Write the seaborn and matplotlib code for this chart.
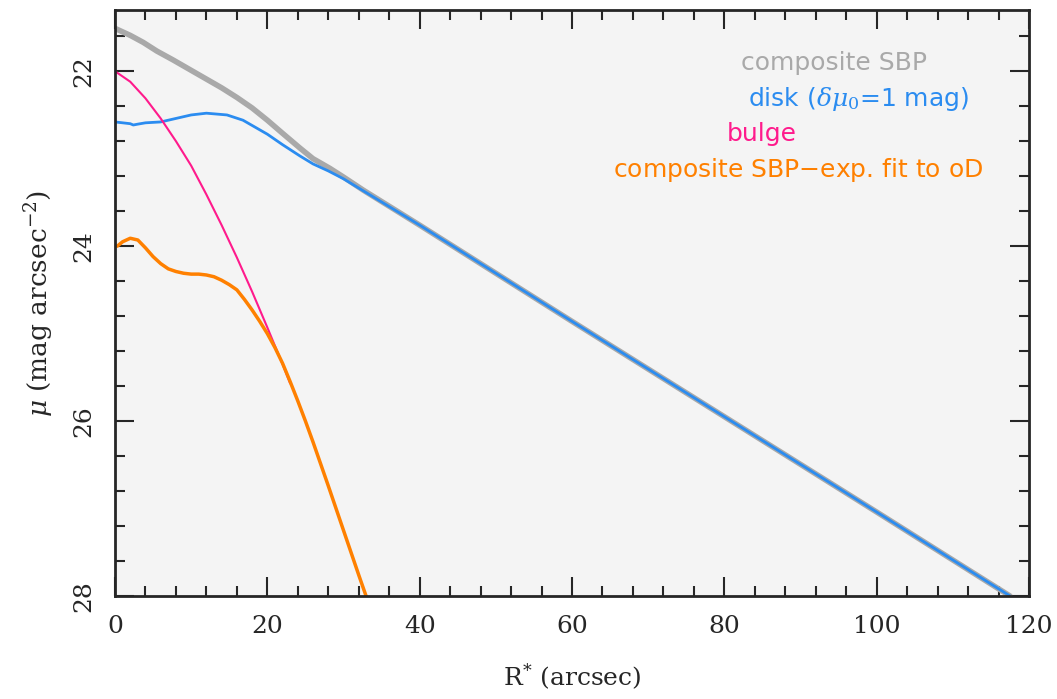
import matplotlib
matplotlib.use("Agg")
import matplotlib.pyplot as plt
import seaborn as sns
from matplotlib.ticker import MultipleLocator

# composite surface brightness profile
r_comp = [0, 2, 3.7, 5.5, 7.6, 10, 12, 14, 16, 18, 20, 22, 24.3, 26, 28.2, 30,
          32.6, 40, 60, 80, 100, 117.5]
mu_comp = [21.51, 21.59, 21.67, 21.77, 21.87, 21.99, 22.09, 22.19, 22.30, 22.42,
           22.56, 22.71, 22.88, 23.00, 23.11, 23.21, 23.36, 23.76, 24.86, 25.95,
           27.04, 28.00]

# disk
r_disk = [0, 1, 2, 2.4, 3, 4, 6, 8, 10, 12, 14.7, 16.8, 18, 20, 22, 24.3, 26, 28,
          30, 40, 60, 80, 100, 117.5]
mu_disk = [22.58, 22.59, 22.60, 22.615, 22.605, 22.59, 22.58, 22.54, 22.50, 22.48,
           22.50, 22.56, 22.62, 22.72, 22.84, 22.97, 23.06, 23.14, 23.23, 23.76,
           24.86, 25.95, 27.04, 28.00]

# bulge
r_bulge = [0, 2, 4, 6, 8, 10, 12, 14, 16, 18, 20, 22, 23]
mu_bulge = [22.00, 22.12, 22.31, 22.54, 22.80, 23.08, 23.41, 23.76, 24.13, 24.52,
            24.93, 25.35, 25.57]

# composite SBP minus exponential fit to outer disk
r_res = [0.3, 1, 2, 3, 4, 5, 6, 7, 8, 9, 10, 11, 12, 13, 14, 15, 16, 17, 18, 19,
         20, 21, 22, 23, 24, 25, 26, 28, 30, 32, 33]
mu_res = [24.00, 23.95, 23.91, 23.93, 24.02, 24.12, 24.20, 24.26, 24.29, 24.31,
          24.32, 24.32, 24.33, 24.35, 24.39, 24.44, 24.50, 24.61, 24.73, 24.86,
          25.00, 25.16, 25.34, 25.55, 25.77, 26.00, 26.24, 26.74, 27.25, 27.76,
          28.01]

labels = ["composite SBP", r"disk ($\delta\mu_0$=1 mag)", "bulge",
          "composite SBP$-$exp. fit to oD"]
colors = ["#a9a9a9", "#2b8cf0", "#ff1a8c", "#ff8000"]

sns.set_style("ticks")
plt.rcParams["mathtext.fontset"] = "dejavuserif"

fig = plt.figure(figsize=(10.57, 6.99), dpi=100)
ax = fig.add_axes([0.1088, 0.1474, 0.8647, 0.8383])
ax.set_facecolor("#f4f4f4")

sns.lineplot(x=r_comp, y=mu_comp, ax=ax, color=colors[0], linewidth=4, sort=False)
sns.lineplot(x=r_disk, y=mu_disk, ax=ax, color=colors[1], linewidth=2, sort=False)
sns.lineplot(x=r_bulge, y=mu_bulge, ax=ax, color=colors[2], linewidth=1.5, sort=False)
sns.lineplot(x=r_res, y=mu_res, ax=ax, color=colors[3], linewidth=2.5, sort=False)

ax.set_xlim(0, 120)
ax.set_ylim(28, 21.3)
ax.xaxis.set_major_locator(MultipleLocator(20))
ax.xaxis.set_minor_locator(MultipleLocator(4))
ax.yaxis.set_major_locator(MultipleLocator(2))
ax.yaxis.set_minor_locator(MultipleLocator(0.4))
ax.tick_params(which="both", direction="in", top=True, right=True, width=1.5)
ax.tick_params(which="major", length=14, labelsize=18)
ax.tick_params(axis="x", which="major", pad=14)
ax.tick_params(axis="y", which="major", pad=14)
ax.tick_params(which="minor", length=7)
for lab in ax.get_xticklabels() + ax.get_yticklabels():
    lab.set_family("DejaVu Serif")
for lab in ax.get_yticklabels():
    lab.set_rotation(90)
    lab.set_va("center")
for s in ax.spines.values():
    s.set_linewidth(2)

ax.set_xlabel(r"R$^{*}$ (arcsec)", fontsize=18, family="DejaVu Serif", labelpad=17)
ax.set_ylabel(r"$\mu$ (mag arcsec$^{-2}$)", fontsize=19, family="DejaVu Serif",
              labelpad=12)

text_pos = [(0.787, 0.910), (0.814, 0.848), (0.708, 0.789), (0.748, 0.727)]
for (tx, ty), lab, c in zip(text_pos, labels, colors):
    ax.text(tx, ty, lab, transform=ax.transAxes, color=c, fontsize=18,
            ha="center", va="center")

fig.savefig("out.png", dpi=100)
plt.close(fig)
